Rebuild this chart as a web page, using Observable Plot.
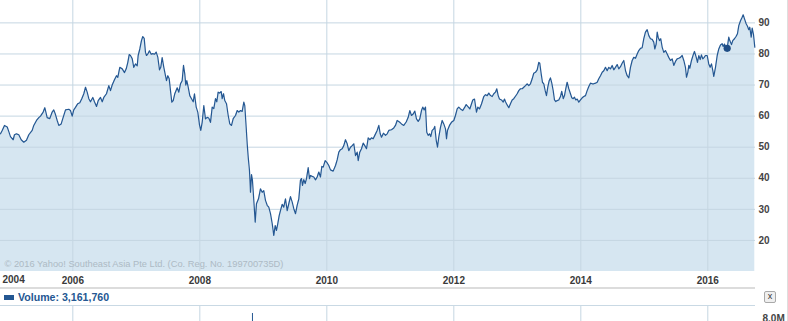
<!DOCTYPE html>
<html><head><meta charset="utf-8">
<script src="https://cdn.jsdelivr.net/npm/d3@7"></script>
<script src="https://cdn.jsdelivr.net/npm/@observablehq/plot@0.6"></script>
<style>
html,body{margin:0;padding:0;background:#fff;}
#wrap{position:relative;width:788px;height:321px;overflow:hidden;font-family:"Liberation Sans",Arial,sans-serif;}
#wrap svg{display:block;}
#main{position:absolute;left:0;top:0;}
#sep{position:absolute;left:0;top:287px;width:755px;height:2px;background:#dcdcdc;}
#legend{position:absolute;left:4px;top:290px;height:14px;display:flex;align-items:center;font-weight:bold;font-size:10.6px;color:#245792;}
#legend .sw{width:10px;height:5px;background:#245792;margin-right:4px;}
#close{position:absolute;left:764px;top:291px;width:10px;height:10px;border:1px solid #a9a9a9;border-radius:2px;background:#efefef;font-size:9px;line-height:9px;text-align:center;color:#333;}
#vtop{position:absolute;left:0;top:305px;width:755px;height:1px;background:#c9d9e4;}
#vol{position:absolute;left:0;top:306px;}
#rb{position:absolute;left:787px;top:0;width:1px;height:321px;background:#dedede;}
</style>
</head><body>
<div id="wrap">
  <div id="main"></div>
  <div id="sep"></div>
  <div id="legend"><span class="sw"></span><span id="legendText"></span></div>
  <div id="close">x</div>
  <div id="vtop"></div>
  <div id="vol"></div>
  <div id="rb"></div>
</div>
<script>
// ---- data (decimal years, closing price) ----
const priceYears = [
2004.861,2004.888,2004.924,2004.967,2004.992,2005.018,2005.061,2005.081,2005.113,2005.149,2005.187,2005.228,2005.270,2005.307,2005.360,2005.385,2005.428,2005.464,2005.491,2005.533,2005.559,2005.596,2005.637,2005.675,2005.700,2005.727,2005.754,2005.779,2005.817,2005.842,2005.885,2005.937,2005.963,2005.990,2006.015,2006.042,2006.078,2006.110,2006.141,2006.173,2006.200,2006.226,2006.252,2006.278,2006.315,2006.341,2006.373,2006.400,2006.436,2006.463,2006.488,2006.530,2006.567,2006.593,2006.620,2006.656,2006.688,2006.708,2006.740,2006.778,2006.814,2006.841,2006.866,2006.888,
2006.908,2006.935,2006.960,2006.987,2007.014,2007.029,2007.055,2007.081,2007.102,2007.124,2007.144,2007.160,2007.187,2007.207,2007.234,2007.259,2007.286,2007.313,2007.338,2007.365,2007.385,2007.407,2007.433,2007.459,2007.475,2007.496,2007.518,2007.538,2007.559,2007.581,2007.606,2007.644,2007.669,2007.696,2007.722,2007.743,2007.763,2007.779,2007.795,2007.817,2007.842,2007.869,2007.896,2007.916,2007.943,2007.968,2007.995,2008.015,2008.037,2008.063,2008.089,2008.116,2008.141,2008.168,2008.195,2008.220,2008.247,2008.267,2008.289,2008.310,2008.337,2008.352,2008.373,2008.393,2008.420,2008.447,2008.472,2008.499,2008.526,2008.562,2008.589,2008.614,2008.641,2008.667,2008.693,2008.708,2008.730,2008.746,2008.762,2008.782,2008.798,2008.814,2008.829,2008.850,2008.872,
2008.892,2008.924,2008.955,2008.982,2009.007,2009.034,2009.061,2009.086,2009.113,2009.140,2009.165,2009.187,2009.207,2009.228,2009.250,2009.270,2009.297,2009.322,2009.349,2009.376,2009.401,2009.428,2009.455,2009.480,2009.507,2009.533,2009.559,2009.585,2009.601,2009.617,2009.637,2009.659,2009.680,2009.707,2009.727,2009.743,2009.770,2009.795,2009.822,2009.848,2009.874,2009.900,2009.921,2009.943,2009.974,2010.000,2010.031,2010.058,2010.100,2010.137,2010.163,2010.189,2010.215,2010.242,2010.267,2010.294,2010.321,2010.346,2010.373,2010.400,2010.425,2010.452,2010.478,2010.494,2010.519,2010.546,2010.573,2010.598,2010.625,2010.652,2010.677,2010.704,2010.730,2010.756,
2010.793,2010.819,2010.841,2010.861,2010.892,2010.924,2010.951,2010.976,2011.018,2011.055,2011.081,2011.108,2011.144,2011.176,2011.212,2011.250,2011.282,2011.307,2011.333,2011.360,2011.386,2011.412,2011.439,2011.464,2011.491,2011.511,2011.533,2011.554,2011.574,2011.596,2011.617,2011.637,2011.659,2011.685,2011.700,2011.723,2011.743,2011.763,2011.790,2011.817,2011.842,2011.869,2011.885,2011.900,2011.932,2011.963,2012.000,2012.026,2012.053,2012.078,2012.105,2012.141,2012.173,2012.195,2012.226,2012.252,2012.278,2012.299,2012.326,2012.341,2012.357,2012.378,2012.404,2012.436,2012.472,2012.499,2012.526,2012.551,2012.578,2012.604,2012.630,2012.656,2012.677,2012.699,2012.719,2012.751,2012.778,2012.798,
2012.814,2012.840,2012.866,2012.892,2012.919,2012.944,2012.971,2012.998,2013.023,2013.050,2013.077,2013.102,2013.129,2013.155,2013.181,2013.207,2013.234,2013.259,2013.286,2013.313,2013.338,2013.354,2013.376,2013.396,2013.417,2013.439,2013.459,2013.480,2013.502,2013.522,2013.543,2013.565,2013.585,2013.606,2013.628,2013.653,2013.680,2013.700,2013.723,2013.743,2013.763,2013.785,2013.811,2013.837,2013.858,2013.880,2013.900,2013.921,2013.943,2013.968,2013.995,2014.022,2014.047,2014.074,2014.100,2014.126,2014.152,2014.179,2014.204,2014.231,2014.258,2014.283,2014.310,2014.337,2014.362,2014.389,2014.415,2014.441,2014.467,2014.494,2014.519,2014.546,2014.573,2014.598,2014.625,2014.651,2014.677,2014.704,2014.730,2014.756,
2014.782,2014.809,2014.834,2014.861,2014.888,2014.913,2014.940,2014.966,2014.992,2015.018,2015.045,2015.071,2015.097,2015.124,2015.149,2015.165,2015.187,2015.203,2015.218,2015.239,2015.259,2015.281,2015.307,2015.333,2015.360,2015.385,2015.412,2015.439,2015.464,2015.491,2015.517,2015.543,2015.570,2015.596,2015.622,2015.648,2015.664,2015.685,2015.701,2015.716,2015.743,2015.770,2015.790,2015.817,2015.837,2015.858,2015.880,2015.900,2015.921,2015.943,2015.963,2015.990,2016.015,2016.037,2016.058,2016.078,2016.094,2016.121,2016.148,2016.173,2016.200,2016.226,2016.242,2016.263,2016.278,2016.305,2016.330,2016.346,2016.373,2016.393,2016.420,2016.447,2016.467,2016.488,2016.515,2016.541,2016.557,2016.578,2016.604,2016.625,2016.645,2016.661,2016.683,2016.699,2016.719,2016.740
];
const priceValues = [
54.3,55.4,57.0,56.5,55.0,53.4,52.4,54.0,54.3,54.0,52.4,51.6,52.2,54.0,55.4,57.0,58.6,59.5,60.0,61.3,62.7,59.5,59.2,61.3,62.0,60.5,58.6,57.0,57.5,59.2,62.0,62.2,61.8,60.0,62.0,62.8,64.0,64.3,65.6,67.2,69.3,67.7,65.6,64.6,66.0,64.6,63.1,65.0,66.0,64.6,66.0,67.2,69.8,68.2,70.0,71.7,73.0,72.5,75.7,75.2,74.0,75.2,77.3,79.8,
79.5,78.5,75.7,76.8,76.2,79.5,81.6,84.3,85.6,85.0,80.5,79.5,80.2,81.0,79.9,80.1,79.9,80.6,79.0,74.9,75.7,78.8,75.7,73.0,71.4,73.0,72.0,68.2,64.5,65.0,67.2,69.1,67.7,70.4,71.4,76.3,73.6,70.0,71.4,69.3,66.6,65.6,64.6,67.2,62.9,61.3,57.2,55.4,58.0,63.4,59.1,59.6,59.4,58.0,62.9,62.4,65.6,64.6,67.7,67.4,67.9,65.6,67.2,65.0,64.0,60.2,57.5,57.0,59.2,60.2,61.8,61.3,61.8,61.5,64.5,63.4,56.4,51.1,46.8,42.5,35.5,41.2,39.3,32.9,25.9,
31.8,33.4,36.6,35.5,36.0,32.9,31.3,30.7,28.6,25.4,21.6,24.8,23.2,25.4,28.0,29.6,31.6,30.7,33.4,29.6,31.8,34.1,32.3,30.2,28.6,31.3,33.4,39.4,39.9,37.7,39.6,38.3,39.9,43.4,39.9,40.9,40.6,40.4,39.5,40.4,42.0,40.4,43.8,43.6,45.7,45.1,44.1,42.7,42.3,44.1,45.9,48.4,49.2,49.5,50.5,52.4,51.1,48.9,50.0,50.5,51.1,47.3,48.4,45.7,48.4,49.5,51.3,50.5,49.5,53.0,52.4,53.0,52.7,53.8,
55.4,57.0,54.3,53.2,54.5,53.8,54.3,55.4,55.6,56.2,57.0,58.6,58.1,57.5,57.0,58.1,59.6,61.8,60.2,60.7,61.6,59.1,58.3,59.1,61.8,62.9,62.0,62.9,54.8,53.8,54.3,53.4,55.4,55.9,56.7,52.2,50.0,53.2,56.4,58.6,57.5,55.9,52.7,55.4,57.0,58.0,58.6,60.2,62.3,62.9,62.3,61.8,62.9,63.7,63.0,62.3,63.9,65.2,65.5,63.4,61.3,62.9,62.3,63.9,66.3,66.9,66.6,67.4,66.6,66.3,67.2,67.7,68.8,66.6,65.5,65.2,64.5,65.5,
64.6,63.6,62.7,64.0,65.2,65.6,66.4,67.2,68.2,68.8,68.8,69.3,69.8,70.4,69.8,70.4,72.0,73.8,74.1,74.9,77.3,77.0,73.6,70.9,70.4,68.2,66.6,69.3,71.4,72.3,70.6,68.2,65.2,64.7,65.0,65.2,66.3,68.0,65.6,66.6,68.8,70.9,68.8,67.2,65.9,65.6,66.1,65.2,65.5,64.5,65.2,65.9,66.3,66.6,68.2,69.5,70.6,70.4,70.4,70.6,70.9,72.0,73.0,74.1,74.6,75.7,74.6,75.7,75.2,76.3,74.9,75.7,76.6,75.2,75.9,77.0,77.9,74.6,73.0,72.3,
75.7,77.9,78.9,78.6,80.0,81.1,81.8,82.0,84.9,87.0,87.8,85.9,84.9,84.7,83.8,81.6,83.2,87.0,85.4,84.3,84.9,82.2,80.5,81.1,80.0,78.9,77.9,78.4,76.3,77.6,78.4,78.6,78.9,79.5,77.9,75.7,72.5,74.1,76.3,75.4,77.9,79.7,80.8,79.0,77.3,79.5,78.2,79.7,78.4,78.9,79.5,79.5,76.8,75.7,76.8,74.7,72.8,75.7,79.5,81.6,82.9,83.3,82.4,83.2,82.2,81.8,85.4,84.3,83.0,84.3,84.9,85.7,86.5,89.1,90.7,91.8,92.6,91.3,89.7,88.9,87.8,88.6,85.4,88.3,86.3,82.2
];
const markerYear = [2016.305];
const markerValue = [81.8];
const xTickYears = [2006, 2008, 2010, 2012, 2014, 2016];
const firstYearLabel = ["2004"];
const yTickValues = [20, 30, 40, 50, 60, 70, 80, 90];
const copyrightText = ["\u00a9 2016 Yahoo! Southeast Asia Pte Ltd. (Co. Reg. No. 199700735D)"];
const volumeYears = [2008.829];
const volumeValues = [9.43e6];
const volumeTicks = [8e6];
const volumeLabel = "Volume: 3,161,760";
const xDomain = [2004.861, 2016.751];

// ---- build ----
const price = priceYears.map((t, i) => ({t, v: priceValues[i]}));
const marker = markerYear.map((t, i) => ({t, v: markerValue[i]}));
const font = "'Liberation Sans', Arial, sans-serif";
const gridColor = "#c5d6e2";
const lineColor = "#245792";

const main = Plot.plot({
  width: 788, height: 287,
  marginTop: 0, marginLeft: 0, marginRight: 33, marginBottom: 16,
  style: {fontFamily: font, background: "transparent", overflow: "visible"},
  x: {domain: xDomain, range: [0, 755], label: null},
  y: {domain: [10, 97.2], label: null},
  marks: [
    Plot.areaY(price, {x: "t", y1: 10, y2: "v", fill: "#d6e6f1"}),
    Plot.gridX(xTickYears, {stroke: gridColor, strokeOpacity: 1, strokeWidth: 1}),
    Plot.gridY(yTickValues, {stroke: gridColor, strokeOpacity: 1, strokeWidth: 1}),
    Plot.text(copyrightText, {x: xDomain[0], y: 10, dx: 4, dy: -7, text: d => d, textAnchor: "start", fontSize: 9.3, fill: "#adbac4"}),
    Plot.lineY(price, {x: "t", y: "v", stroke: lineColor, strokeWidth: 1.2}),
    Plot.dot(marker, {x: "t", y: "v", r: 3.6, fill: "#1f4d85"}),
    Plot.axisX(xTickYears, {tickSize: 0, tickPadding: 5, label: null, tickFormat: d => String(d), fontSize: 10, fontWeight: "bold", fill: "#3a3a3a"}),
    Plot.text(firstYearLabel, {x: xDomain[0], y: 10, dx: 2, dy: 8.6, text: d => d, textAnchor: "start", fontSize: 10, fontWeight: "bold", fill: "#3a3a3a"}),
    Plot.axisY(yTickValues, {anchor: "right", tickSize: 0, tickPadding: 3, label: null, fontSize: 10, fontWeight: "bold", fill: "#444"})
  ]
});
document.getElementById("main").appendChild(main);

document.getElementById("legendText").textContent = volumeLabel;

const vol = volumeYears.map((t, i) => ({t, v: volumeValues[i]}));
const volPlot = Plot.plot({
  width: 788, height: 40,
  marginTop: 0, marginLeft: 0, marginRight: 33, marginBottom: 0,
  style: {fontFamily: font, background: "transparent", overflow: "visible"},
  x: {domain: xDomain, range: [0, 755], axis: null, label: null},
  y: {domain: [0, 11.43e6], axis: null, label: null},
  marks: [
    Plot.gridX(xTickYears, {stroke: gridColor, strokeOpacity: 1}),
    Plot.ruleX(vol, {x: "t", y1: 0, y2: "v", stroke: lineColor, strokeWidth: 1}),
    Plot.axisY(volumeTicks, {anchor: "right", tickSize: 0, tickPadding: 7, label: null, tickFormat: d => (d / 1e6).toFixed(1) + "M", fontSize: 10, fontWeight: "bold", fill: "#444"})
  ]
});
document.getElementById("vol").appendChild(volPlot);
</script>
</body></html>
